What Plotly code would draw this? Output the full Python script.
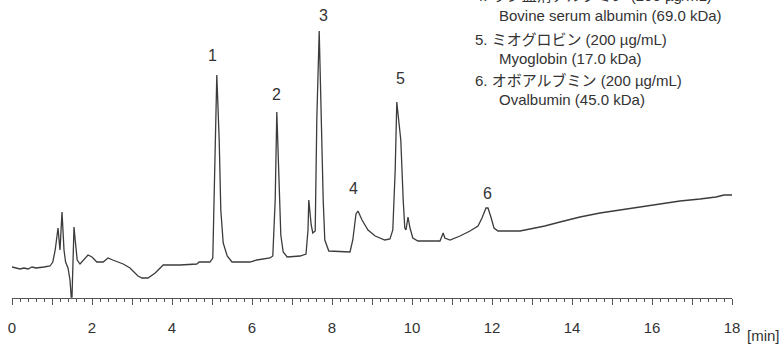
import plotly.graph_objects as go

# Chromatogram trace: retention time (min) and detector signal (arb. units)
time_min = [0, 0.1, 0.2, 0.3, 0.4, 0.5, 0.6, 0.8, 0.95, 1.02, 1.08, 1.15, 1.2, 1.25, 1.3, 1.34, 1.4, 1.45,
            1.48, 1.5, 1.53, 1.55, 1.58, 1.63, 1.7, 1.8, 1.9, 2.0, 2.12, 2.28, 2.4, 2.52, 2.78, 2.95, 3.15,
            3.25, 3.4, 3.58, 3.78, 4.2, 4.62, 4.68, 4.95, 5.02, 5.08, 5.12, 5.18, 5.22, 5.28, 5.38, 5.5,
            5.95, 6.12, 6.45, 6.52, 6.58, 6.62, 6.68, 6.72, 6.78, 6.88, 7.2, 7.35, 7.4, 7.42, 7.48, 7.52,
            7.58, 7.62, 7.68, 7.72, 7.78, 7.82, 7.92, 8.45, 8.52, 8.6, 8.65, 8.75, 8.9, 9.08, 9.32, 9.45,
            9.52, 9.58, 9.62, 9.68, 9.72, 9.78, 9.82, 9.85, 9.9, 9.95, 10.02, 10.15, 10.7, 10.75, 10.78,
            10.82, 10.95, 11.2, 11.45, 11.65, 11.75, 11.85, 11.9, 11.98, 12.05, 12.15, 12.7, 12.95, 13.32,
            13.7, 14.2, 14.7, 15.2, 15.7, 16.2, 16.7, 17.2, 17.6, 17.8, 18.0]
signal = [31, 30, 29, 30, 29, 31, 30, 31, 32, 36, 48, 70, 48, 86, 48, 36, 30, 18,
          1, 1, 38, 71, 58, 38, 34, 38, 43, 41, 36, 36, 40, 38, 34, 30, 22,
          20, 20, 25, 33, 33, 34, 36, 36, 40, 148, 223, 158, 88, 55, 42, 36,
          36, 38, 40, 42, 98, 186, 118, 63, 46, 41, 42, 44, 68, 98, 73, 65,
          67, 178, 267, 198, 98, 58, 47, 46, 58, 84, 87, 78, 68, 62, 58, 59,
          68, 128, 196, 173, 158, 98, 70, 68, 81, 70, 60, 57, 57, 62, 65,
          60, 58, 62, 67, 72, 80, 90, 90, 80, 70, 67, 67, 69, 72,
          76, 81, 85, 88, 91, 94, 97, 99, 101, 103, 103]

# Peak numbers and where their labels sit
peak_labels = ["1", "2", "3", "4", "5", "6"]
label_time = [5.0, 6.6, 7.78, 8.53, 9.7, 11.88]
label_signal = [243, 204, 283, 110, 220, 105]

# Tick labels
tick_vals = list(range(0, 19))
tick_text = [str(v) if v % 2 == 0 else "" for v in tick_vals]

# Peak identification legend (top right, first line cut by the top edge as in the source)
legend_lines = [
    "4. ウシ血清アルブミン (200 µg/mL)",
    "Bovine serum albumin (69.0 kDa)",
    "5. ミオグロビン (200 µg/mL)",
    "Myoglobin (17.0 kDa)",
    "6. オボアルブミン (200 µg/mL)",
    "Ovalbumin (45.0 kDa)",
]
legend_indent = [False, True, False, True, False, True]
legend_y_px = [-5, 15, 40, 59, 80, 99]

FONT = "Liberation Sans, Arial, Noto Sans CJK JP, sans-serif"
TXT = "#333333"

# plot-area geometry in figure pixels
W, H = 783, 345
L, R, T, B = 12, 51, 10, 47
PW, PH = W - L - R, H - T - B


def px_x(px):
    return (px - L) / PW


def px_y(py):
    return (H - B - py) / PH


fig = go.Figure()
fig.add_trace(go.Scatter(x=time_min, y=signal, mode="lines",
                         line=dict(color="#3c3c3c", width=1.3), hoverinfo="skip"))

for lab, t, s in zip(peak_labels, label_time, label_signal):
    fig.add_annotation(x=t, y=s, text=lab, showarrow=False, xref="x", yref="y",
                       font=dict(family=FONT, size=16, color=TXT))

for txt, ind, ypx in zip(legend_lines, legend_indent, legend_y_px):
    fig.add_annotation(x=px_x(497 if ind else 473), y=px_y(ypx), xref="paper", yref="paper",
                       text=txt, showarrow=False, xanchor="left", yanchor="middle",
                       font=dict(family=FONT, size=15, color=TXT))

fig.add_annotation(x=px_x(745), y=px_y(335), xref="paper", yref="paper", text="[min]",
                   showarrow=False, xanchor="left", yanchor="middle",
                   font=dict(family=FONT, size=15, color=TXT))

fig.update_layout(
    width=W, height=H,
    margin=dict(l=L, r=R, t=T, b=B, autoexpand=False),
    paper_bgcolor="white", plot_bgcolor="white",
    showlegend=False,
    xaxis=dict(range=[0, 18], showgrid=False, zeroline=False, automargin=False,
               showline=True, linecolor="#555555", linewidth=1.2,
               tickmode="array", tickvals=tick_vals, ticktext=tick_text,
               ticks="outside", ticklen=6, tickcolor="#555555", tickwidth=1.2,
               ticklabelstandoff=10,
               tickfont=dict(family=FONT, size=15, color=TXT),
               minor=dict(tick0=0, dtick=0.2, ticks="outside", ticklen=3,
                          tickcolor="#555555", tickwidth=1, showgrid=False)),
    yaxis=dict(range=[0, 288], visible=False, showgrid=False, zeroline=False),
)

fig.write_html("out.html", config={"displayModeBar": False},
               post_script="document.body.style.margin='0';")
